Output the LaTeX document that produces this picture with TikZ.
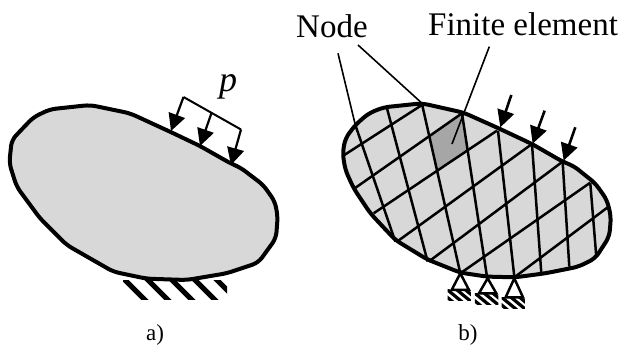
\documentclass[tikz,border=0pt]{standalone}
\usepackage{fontspec}
\setmainfont{Liberation Serif}
\usetikzlibrary{arrows.meta}
\tikzset{
  body/.style={draw=black,fill=bodygray,line width=4pt,line join=round,rounded corners=6pt},
  mesh/.style={draw=black,line width=2.5pt},
  leader/.style={draw=black,line width=1.6pt},
  load/.style={draw=black,line width=2.2pt,-{Triangle[length=17pt,width=17pt]}},
  hatch/.style={draw=black,line width=5pt},
  lbl/.style={inner sep=0pt,text=black},
  zb/.style={x=0.3333pt,y=-0.3333pt,xshift=312pt},
}
\definecolor{bodygray}{RGB}{216,216,216}
\definecolor{elemgray}{RGB}{166,166,166}
\begin{document}
\begin{tikzpicture}[x=1pt,y=-1pt]
\useasboundingbox (0,0) rectangle (624,347);
% ---------- a)
\draw[body] (90,105) -- (130,113.3) -- (170,131.7) -- (200,146) -- (231.7,164) -- (240,167.3)
  -- (263.3,185) -- (275,201.7) -- (277.7,216.7) -- (276,238.3) -- (258.3,262.7) -- (226.7,273.3)
  -- (186.7,280) -- (146.7,278.7) -- (113.3,271.7) -- (66.7,245) -- (40,218.3) -- (16.7,186.7)
  -- (9.3,163.3) -- (11.7,140) -- (33.3,117.3) -- (50,109.3) -- cycle;
\begin{scope}
  \clip (123,281) rectangle (227,300);
  \foreach \x in {123,146,170,193,215}
    \draw[hatch] (\x,278) -- (\x+26,304);
\end{scope}
% load a
\coordinate (la) at (183.5,97);
\coordinate (lb) at (241,129.5);
\coordinate (lc) at (211.5,113);
\coordinate (ta) at (171,131);
\coordinate (tb) at (200,146);
\coordinate (tc) at (231,165);
\draw[line width=2pt] (la) -- (lb);
\draw[load] (la) -- (ta);
\draw[load] (lc) -- (tb);
\draw[load] (lb) -- (tc);
\node[lbl,font=\fontsize{36}{36}\selectfont\itshape] (p) at (228,87) {p};
\node[lbl,font=\fontsize{23}{23}\selectfont] (capa) at (155,335) {a)};
% ---------- b)
\begin{scope}[zb]
\draw[body] (330,310) -- (455,338) -- (560,385) -- (660,432) -- (752,485) -- (785,498) -- (850,550)
  -- (885,600) -- (897,650) -- (892,710) -- (850,775) -- (800,800) -- (700,820) -- (610,832)
  -- (525,830) -- (445,818) -- (345,778) -- (250,720) -- (175,640) -- (125,565) -- (100,510)
  -- (92,460) -- (100,415) -- (130,375) -- (170,340) -- (215,322) -- cycle;
\fill[elemgray] (355,405) -- (450,342) -- (468,450) -- (375,510) -- cycle;
% steep mesh lines
\draw[mesh] (130,375) -- (250,725);
\draw[mesh] (225,325) -- (347,785);
\draw[mesh] (330,312) -- (445,820);
\draw[mesh] (450,340) -- (525,830);
\draw[mesh] (558,392) -- (607,830);
\draw[mesh] (660,432) -- (688,820);
\draw[mesh] (752,485) -- (772,800);
\draw[mesh] (835,550) -- (853,770);
% shallow mesh lines
\draw[mesh] (330,315) -- (97,465);
\draw[mesh] (450,340) -- (128,565);
\draw[mesh] (555,392) -- (185,640);
\draw[mesh] (660,432) -- (255,725);
\draw[mesh] (752,485) -- (350,785);
\draw[mesh] (835,548) -- (445,820);
\draw[mesh] (890,620) -- (610,830);
% leaders
\draw[leader] (78,160) -- (130,375);
\draw[leader] (138,135) -- (328,308);
\draw[leader] (532,140) -- (420,432);
% loads
\draw[load,line width=2.6pt] (598,285) -- (565,382);
\draw[load,line width=2.6pt] (698,332) -- (662,431);
\draw[load,line width=2.6pt] (790,382) -- (755,482);
% supports
\foreach \ax/\ay/\by in {445/820/870,527/835/880,607/835/892}{
  \begin{scope}
    \clip (\ax-38,\by) rectangle (\ax+32,\by+33);
    \foreach \d in {-42,-14,14,40}
      \draw[draw=black,line width=3.2pt] (\ax+\d-30,\by-5) -- (\ax+\d+22,\by+38);
  \end{scope}
  \draw[draw=black,line width=2.5pt,line join=miter] (\ax,\ay) -- (\ax-26,\by) -- (\ax+26,\by) -- cycle;
}
\end{scope}
\node[lbl,font=\fontsize{33}{33}\selectfont,anchor=base west] (node) at (296,38) {Node};
\node[lbl,font=\fontsize{33}{33}\selectfont,anchor=base west] (fe) at (428,36) {Finite element};
\node[lbl,font=\fontsize{23}{23}\selectfont] (capb) at (468,335) {b)};
\end{tikzpicture}
\end{document}
